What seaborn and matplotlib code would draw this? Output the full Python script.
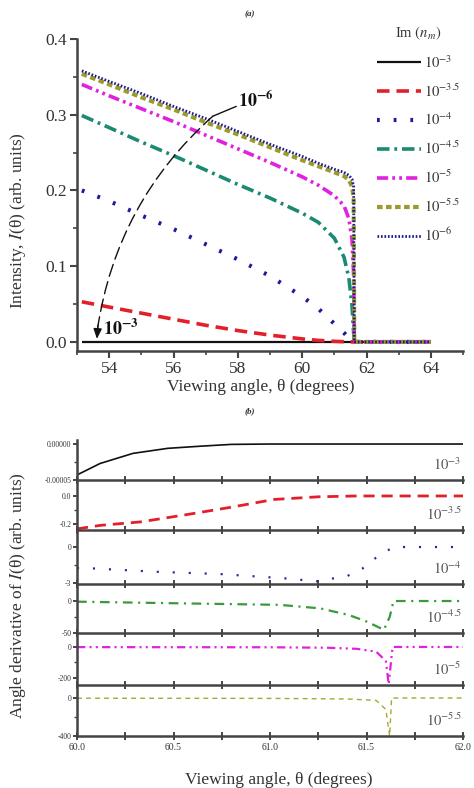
import numpy as np
import pandas as pd
import matplotlib
matplotlib.use("Agg")
import matplotlib.pyplot as plt
import seaborn as sns

# ---- panel (a): intensity vs viewing angle, one curve per Im(n_m) ----
angle_a = [53.15, 54, 55, 56, 57, 58, 59, 60, 60.5, 61, 61.3, 61.45, 61.55, 61.6, 61.62, 62, 63, 64]
I_m3   = [0, 0, 0, 0, 0, 0, 0, 0, 0, 0, 0, 0, 0, 0, 0, 0, 0, 0]
I_m35  = [0.053, 0.046, 0.038, 0.030, 0.022, 0.015, 0.009, 0.004, 0.002, 0.0008, 0.0003, 0.0001, 0, 0, 0, 0, 0, 0]
I_m4   = [0.200, 0.186, 0.167, 0.149, 0.129, 0.109, 0.087, 0.060, 0.044, 0.024, 0.012, 0.005, 0.001, 0, 0, 0, 0, 0]
I_m45  = [0.299, 0.283, 0.264, 0.246, 0.227, 0.208, 0.190, 0.170, 0.158, 0.137, 0.112, 0.085, 0.048, 0.012, 0, 0, 0, 0]
I_m5   = [0.340, 0.325, 0.308, 0.291, 0.273, 0.255, 0.237, 0.218, 0.207, 0.193, 0.180, 0.163, 0.135, 0.090, 0, 0, 0, 0]
I_m55  = [0.354, 0.340, 0.323, 0.307, 0.290, 0.274, 0.257, 0.240, 0.232, 0.224, 0.219, 0.214, 0.205, 0.190, 0, 0, 0, 0]
I_m6   = [0.358, 0.344, 0.328, 0.311, 0.295, 0.278, 0.261, 0.245, 0.236, 0.228, 0.224, 0.220, 0.215, 0.205, 0, 0, 0, 0]
intensity = [I_m3, I_m35, I_m4, I_m45, I_m5, I_m55, I_m6]
im_labels = ['$10^{-3}$', '$10^{-3.5}$', '$10^{-4}$', '$10^{-4.5}$', '$10^{-5}$', '$10^{-5.5}$', '$10^{-6}$']

# ---- panel (b): angle derivative of I(theta), first six curves ----
dx1 = [60.0, 60.12, 60.29, 60.47, 60.64, 60.8, 61.0, 62.0]
dy1 = [-4.3e-5, -2.7e-5, -1.3e-5, -6e-6, -3e-6, -0.5e-6, 0, 0]
dx2 = [60.0, 60.12, 60.33, 60.56, 60.8, 61.02, 61.25, 61.45, 62.0]
dy2 = [-0.235, -0.21, -0.185, -0.135, -0.08, -0.025, -0.006, 0, 0]
dx3 = [60.0, 60.08, 60.41, 60.74, 61.07, 61.24, 61.4, 61.48, 61.56, 61.64, 62.0]
dy3 = [-1.75, -1.78, -2.06, -2.25, -2.6, -2.85, -2.42, -1.78, -0.75, 0, 0]
dx4 = [60.0, 60.53, 61.05, 61.26, 61.41, 61.5, 61.59, 61.62, 61.64, 62.0]
dy4 = [-1, -3.6, -6, -11.5, -22, -32, -45, -25, 0, 0]
dx5 = [60.0, 61.0, 61.3, 61.45, 61.55, 61.6, 61.615, 61.625, 61.635, 62.0]
dy5 = [-1, -2, -5, -12, -30, -90, -240, -120, 0, 0]
dx6 = [60.0, 61.0, 61.4, 61.55, 61.6, 61.62, 61.63, 62.0]
dy6 = [-2, -4, -10, -25, -120, -400, 0, 0]
deriv_x = [dx1, dx2, dx3, dx4, dx5, dx6]
deriv_y = [dy1, dy2, dy3, dy4, dy5, dy6]
deriv_yticks = [[0, -0.00005], [0.0, -0.2], [0, -3], [0, -50], [0, -200], [0, -400]]
deriv_yticklabels = [['0.00000', '-0.00005'], ['0.0', '-0.2'], ['0', '-3'], ['0', '-50'], ['0', '-200'], ['0', '-400']]

# styles
colors_a = ['#111111', '#e3202a', '#1c1c9a', '#1b8a72', '#e022e0', '#9c9a2a', '#1c1c8a']
colors_b = ['#111111', '#e3202a', '#2a2aa0', '#3a9a3a', '#e022e0', '#a8a830']
styles = [
    dict(ls='-', lw=1.6),
    dict(ls=(0, (9, 5)), lw=2.6),
    dict(ls=(0, (2, 10)), lw=3.0),
    dict(ls=(0, (9, 3.5, 2, 3.5)), lw=2.6),
    dict(ls=(0, (8, 3, 2, 3, 2, 3)), lw=2.6),
    dict(ls=(0, (4, 2.5)), lw=3.0),
    dict(ls=(0, (1.2, 1.3)), lw=2.0),
]
styles_b = [
    dict(ls='-', lw=1.2),
    dict(ls=(0, (8, 5)), lw=2.0),
    dict(ls=(0, (1.5, 10)), lw=1.6),
    dict(ls=(0, (7, 4, 1.5, 4)), lw=1.6),
    dict(ls=(0, (6, 3, 1.5, 3, 1.5, 3)), lw=1.6),
    dict(ls=(0, (3.5, 3)), lw=1.0),
]

sns.set_style("ticks")
plt.rcParams['font.family'] = ['Liberation Serif', 'DejaVu Serif']
plt.rcParams['mathtext.fontset'] = 'stix'
plt.rcParams['lines.scale_dashes'] = False
plt.rcParams['lines.solid_capstyle'] = 'butt'
plt.rcParams['lines.dash_capstyle'] = 'butt'
txt = '#333333'
spc = '#444444'

fig = plt.figure(figsize=(4.74, 7.88), dpi=100)
W, H = 474.0, 788.0


def box(l, t, r, b):
    return [l / W, 1 - b / H, (r - l) / W, (b - t) / H]


# ---------------- panel (a) ----------------
ax = fig.add_axes(box(77, 39, 463, 351))
for y, lab, c, st in zip(intensity, im_labels, colors_a, styles):
    sns.lineplot(x=angle_a, y=y, ax=ax, color=c, linewidth=st['lw'], linestyle=st['ls'],
                 label=lab, estimator=None, sort=False)
ax.set_xlim(53.15, 65)
ax.set_ylim(-0.012, 0.4)
ax.set_xticks([54, 56, 58, 60, 62, 64])
ax.set_xticks(np.arange(53, 65.5, 1), minor=True)
ax.set_yticks([0.0, 0.1, 0.2, 0.3, 0.4])
ax.set_yticklabels(['0.0', '0.1', '0.2', '0.3', '0.4'])
ax.set_yticks([0.05, 0.15, 0.25, 0.35], minor=True)
ax.spines[['top', 'right']].set_visible(False)
for s in ['left', 'bottom']:
    ax.spines[s].set_linewidth(1.8)
    ax.spines[s].set_color(spc)
ax.tick_params(which='major', direction='out', length=5, width=1.5, color=spc,
               labelsize=12.5, labelcolor=txt, pad=2)
ax.tick_params(which='minor', direction='out', length=3, width=1.2, color=spc)
ax.set_xlabel('')
ax.set_ylabel('')

leg = ax.legend(loc='upper right', bbox_to_anchor=(0.998, 0.985), bbox_transform=fig.transFigure,
                frameon=False, fontsize=10.5, handlelength=3.0, handletextpad=0.2,
                labelspacing=0.8, title='Im $(n_{m})$', title_fontsize=10.5)
for t in leg.get_texts():
    t.set_color(txt)
leg.get_title().set_color(txt)

# arrow from 10^-6 down to 10^-3
ax.annotate('', xy=(57.22, 0.298), xytext=(57.95, 0.311),
            arrowprops=dict(arrowstyle='-', color='#111111', lw=1.0, shrinkA=0, shrinkB=0))
ax.annotate('', xy=(53.64, 0.018), xytext=(57.22, 0.298),
            arrowprops=dict(arrowstyle='-', color='#111111', lw=1.0, linestyle=(0, (9, 4)),
                            connectionstyle='arc3,rad=0.18', shrinkA=0, shrinkB=0))
ax.annotate('', xy=(53.62, 0.004), xytext=(53.65, 0.022),
            arrowprops=dict(arrowstyle='-|>,head_length=0.6,head_width=0.25', color='#111111',
                            lw=1.0, shrinkA=0, shrinkB=0))
ax.text(58.02, 0.319, '$\\mathbf{10^{-6}}$', fontsize=13, ha='left', va='center', color='#111111')
ax.text(53.8, 0.017, '$\\mathbf{10^{-3}}$', fontsize=13, ha='left', va='center', color='#111111')

fig.text(261 / W, 1 - 387 / H, 'Viewing angle, θ (degrees)', fontsize=12.5, ha='center', va='center', color=txt)
fig.text(18 / W, 1 - 221 / H, 'Intensity, $I$(θ) (arb. units)', fontsize=12.5, rotation=90,
         ha='center', va='center', color=txt)
fig.text(250 / W, 1 - 16 / H, '(a)', fontsize=6.5, fontweight='bold', fontstyle='italic', ha='center', color=txt)

# ---------------- panel (b) ----------------
edges = [440, 480, 530, 584, 633, 685, 736]
ylims = [(-0.00005, 0.0000056), (-0.243, 0.114), (-3.08, 1.42), (-50, 26.6), (-245, 90), (-400, 137)]
for i in range(6):
    axb = fig.add_axes(box(77, edges[i], 463, edges[i + 1]))
    st = styles_b[i]
    sns.lineplot(x=deriv_x[i], y=deriv_y[i], ax=axb, color=colors_b[i], linewidth=st['lw'],
                 linestyle=st['ls'], estimator=None, sort=False)
    axb.set_xlim(60.0, 62.0)
    axb.set_ylim(*ylims[i])
    axb.set_xticks([60.0, 60.5, 61.0, 61.5, 62.0])
    axb.set_xticks([60.25, 60.75, 61.25, 61.75], minor=True)
    axb.set_yticks(deriv_yticks[i])
    axb.set_yticklabels(deriv_yticklabels[i])
    axb.set_yticks([deriv_yticks[i][1] / 2], minor=True)
    axb.spines[['top', 'right']].set_visible(False)
    for s in ['left', 'bottom']:
        axb.spines[s].set_linewidth(1.8)
        axb.spines[s].set_color(spc)
    axb.tick_params(axis='x', which='both', direction='inout', length=6, width=1.4, color=spc,
                    labelsize=7, labelcolor=txt, pad=2)
    axb.tick_params(axis='y', which='major', direction='out', length=3, width=1.4, color=spc,
                    labelsize=5.5, labelcolor=txt, pad=1)
    axb.tick_params(axis='y', which='minor', direction='out', length=2, width=1.0, color=spc)
    if i < 5:
        axb.tick_params(axis='x', labelbottom=False)
    axb.set_xlabel('')
    axb.set_ylabel('')
    axb.patch.set_alpha(0)
    axb.annotate(im_labels[i], xy=(1, 0), xycoords='axes fraction', xytext=(-1, 11),
                 textcoords='offset points', ha='right', va='center', fontsize=10.5, color='#555555')

fig.text(279 / W, 1 - 780 / H, 'Viewing angle, θ (degrees)', fontsize=12.5, ha='center', va='center', color=txt)
fig.text(18 / W, 1 - 596 / H, 'Angle derivative of $I$(θ) (arb. units)', fontsize=12.5, rotation=90,
         ha='center', va='center', color=txt)
fig.text(250 / W, 1 - 413 / H, '(b)', fontsize=6.5, fontweight='bold', fontstyle='italic', ha='center', color=txt)

fig.savefig('out.png', dpi=100)
